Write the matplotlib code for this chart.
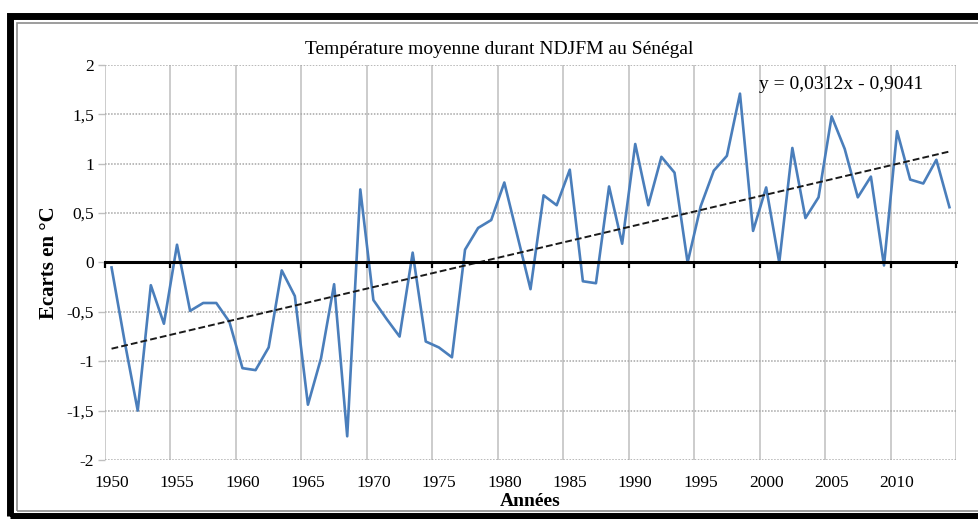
import numpy as np
import matplotlib
matplotlib.use("Agg")
import matplotlib.pyplot as plt
from matplotlib.patches import Rectangle
from matplotlib.ticker import FuncFormatter

YEARS = list(range(1950, 2015))
ANOMALY = [
    -0.05, -0.80, -1.50, -0.23, -0.62, 0.18, -0.49, -0.41, -0.41, -0.60,
    -1.07, -1.09, -0.86, -0.08, -0.34, -1.44, -0.97, -0.22, -1.76, 0.74,
    -0.38, -0.57, -0.75, 0.10, -0.80, -0.86, -0.96, 0.13, 0.35, 0.43,
    0.81, 0.27, -0.27, 0.68, 0.58, 0.94, -0.19, -0.21, 0.77, 0.19,
    1.20, 0.58, 1.07, 0.91, 0.00, 0.57, 0.93, 1.08, 1.71, 0.32,
    0.76, 0.00, 1.16, 0.45, 0.66, 1.48, 1.15, 0.66, 0.87, -0.03,
    1.33, 0.84, 0.80, 1.04, 0.56,
]
# Excel linear trend, x = rank of the year (1..65)
TREND_SLOPE = 0.0312
TREND_INTERCEPT = -0.9041
TITLE = "Température moyenne durant NDJFM au Sénégal"
EQUATION = "y = 0,0312x - 0,9041"

BLUE = "#4a7ebb"
GRID = "#bfbfbf"
SERIF = ["Liberation Serif", "DejaVu Serif"]

plt.rcParams["font.family"] = SERIF

years = np.array(YEARS)
rank = np.arange(1, len(years) + 1)
trend = TREND_SLOPE * rank + TREND_INTERCEPT

W, H = 979, 519
fig = plt.figure(figsize=(W / 100, H / 100), dpi=100)
ax = fig.add_axes([105 / W, 1 - 460 / H, (956 - 105) / W, (460 - 65) / H])

ax.plot(years, ANOMALY, color=BLUE, lw=1.9, zorder=3)
ax.plot(years, trend, color="#1a1a1a", lw=1.4, ls=(0, (3.5, 1.6)), zorder=4)

ax.set_xlim(years[0] - 0.5, years[-1] + 0.5)
ax.set_ylim(-2, 2)

# category boundaries every 5 years carry the grid and the ticks on the 0 axis
bounds = np.arange(years[0] - 0.5, years[-1] + 1, 5)
ax.set_xticks(bounds)
ax.tick_params(axis="x", direction="out", length=4, width=1.6, color="black",
               labelbottom=False)
ax.set_yticks(np.arange(-2, 2.01, 0.5))
ax.yaxis.set_major_formatter(
    FuncFormatter(lambda v, _: f"{v:g}".replace(".", ",")))
ax.tick_params(axis="y", length=5, width=1, color=GRID, labelsize=12.5, pad=3)

ax.grid(axis="x", color=GRID, lw=1.1, ls="-")
ax.grid(axis="y", color="#a6a6a6", lw=1.1, ls=(0, (1, 1)))
ax.set_axisbelow(True)

for s in ("top", "right", "left"):
    ax.spines[s].set_visible(False)
ax.spines["bottom"].set_position(("data", 0))
ax.spines["bottom"].set_linewidth(2.2)
ax.spines["bottom"].set_zorder(5)

sec = ax.secondary_xaxis("bottom")
sec.set_xticks(years[::5])
sec.tick_params(length=0, labelsize=12.5, pad=11)
sec.spines["bottom"].set_visible(False)

ax.set_title(TITLE, fontsize=14, pad=8, x=0.463)
ax.set_ylabel("Ecarts en °C", fontsize=15, fontweight="bold", labelpad=5)
sec.set_xlabel("Années", fontsize=14, fontweight="bold", labelpad=1)
ax.text(0.865, 0.95, EQUATION, transform=ax.transAxes, ha="center",
        va="center", fontsize=14)

# frame round the picture
fig.add_artist(Rectangle((10 / W, 1 - 516 / H), 1, (516 - 16) / H,
                         transform=fig.transFigure, fill=False,
                         edgecolor="black", lw=5))
fig.add_artist(Rectangle((17 / W, 1 - 511 / H), 1, (511 - 23) / H,
                         transform=fig.transFigure, fill=False,
                         edgecolor="#8c8c8c", lw=1.2))

fig.savefig("out.png", dpi=100, facecolor="white")
